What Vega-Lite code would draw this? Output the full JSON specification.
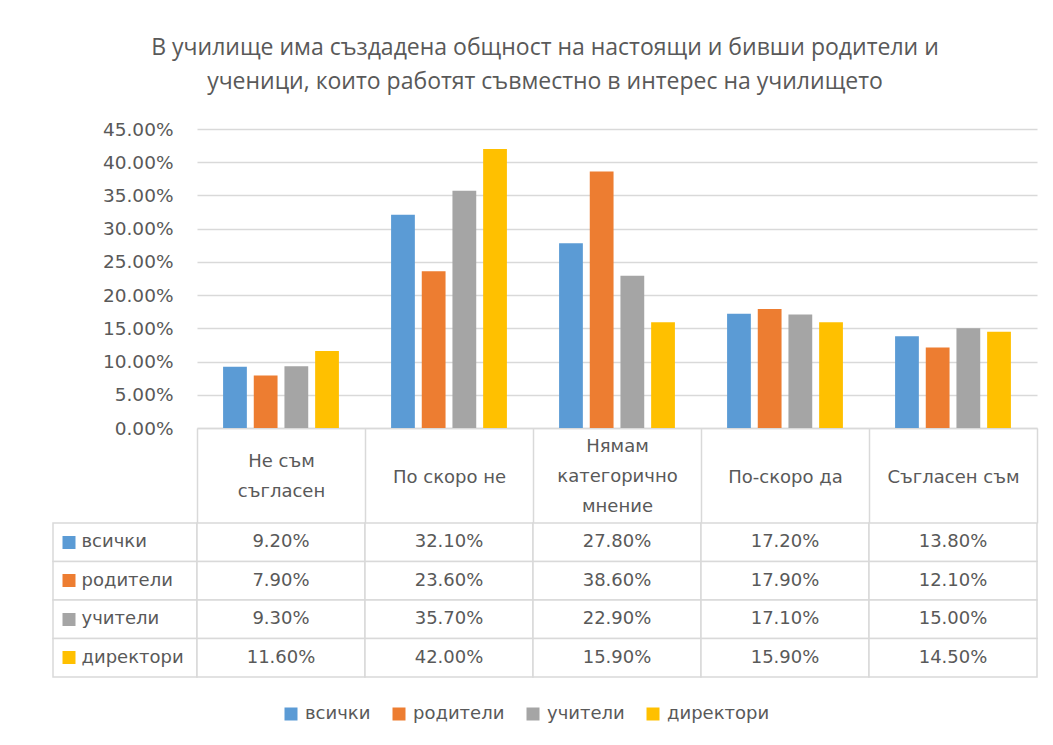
{
  "$schema": "https://vega.github.io/schema/vega-lite/v6.json",
  "background": "white",
  "padding": {"left": 52, "top": 37, "right": 10, "bottom": 10},
  "title": {
    "text": ["В училище има създадена общност на настоящи и бивши родители и", "ученици, които работят съвместно в интерес на училището"],
    "font": "Open Sans",
    "fontSize": 23,
    "fontWeight": "normal",
    "color": "#595959",
    "lineHeight": 34,
    "anchor": "middle",
    "offset": 26
  },
  "datasets": {
    "main": [
      {"cat": "Не съм съгласен", "series": "всички", "value": 0.092},
      {"cat": "По скоро не", "series": "всички", "value": 0.321},
      {"cat": "Нямам категорично мнение", "series": "всички", "value": 0.278},
      {"cat": "По-скоро да", "series": "всички", "value": 0.172},
      {"cat": "Съгласен съм", "series": "всички", "value": 0.138},
      {"cat": "Не съм съгласен", "series": "родители", "value": 0.079},
      {"cat": "По скоро не", "series": "родители", "value": 0.236},
      {"cat": "Нямам категорично мнение", "series": "родители", "value": 0.386},
      {"cat": "По-скоро да", "series": "родители", "value": 0.179},
      {"cat": "Съгласен съм", "series": "родители", "value": 0.121},
      {"cat": "Не съм съгласен", "series": "учители", "value": 0.093},
      {"cat": "По скоро не", "series": "учители", "value": 0.357},
      {"cat": "Нямам категорично мнение", "series": "учители", "value": 0.229},
      {"cat": "По-скоро да", "series": "учители", "value": 0.171},
      {"cat": "Съгласен съм", "series": "учители", "value": 0.150},
      {"cat": "Не съм съгласен", "series": "директори", "value": 0.116},
      {"cat": "По скоро не", "series": "директори", "value": 0.420},
      {"cat": "Нямам категорично мнение", "series": "директори", "value": 0.159},
      {"cat": "По-скоро да", "series": "директори", "value": 0.159},
      {"cat": "Съгласен съм", "series": "директори", "value": 0.145}
    ]
  },
  "columns": 2,
  "spacing": {"row": 95, "column": 0},
  "bounds": "flush",
  "align": "each",
  "resolve": {"scale": {"x": "independent", "y": "independent"}},
  "concat": [
    {
      "width": 144,
      "height": 299,
      "data": {"values": []},
      "mark": "rect",
      "encoding": {}
    },
    {
      "width": 840,
      "height": 299,
      "data": {"name": "main"},
      "mark": {"type": "bar"},
      "encoding": {
        "x": {
          "field": "cat",
          "type": "nominal",
          "sort": ["Не съм съгласен", "По скоро не", "Нямам категорично мнение", "По-скоро да", "Съгласен съм"],
          "scale": {"paddingInner": 0, "paddingOuter": 0},
          "axis": {
            "orient": "bottom",
            "title": null,
            "domain": true,
            "domainColor": "#d9d9d9",
            "domainWidth": 1.5,
            "ticks": true,
            "tickBand": "extent",
            "tickSize": 95,
            "tickColor": "#d9d9d9",
            "tickWidth": 1.5,
            "labelAngle": 0,
            "labelBaseline": "middle",
            "labelPadding": {
              "condition": [
                {"test": "datum.value === 'Не съм съгласен'", "value": -62},
                {"test": "datum.value === 'Нямам категорично мнение'", "value": -77}
              ],
              "value": -46
            },
            "labelLineHeight": 30,
            "labelFont": "DejaVu Sans",
            "labelFontSize": 18,
            "labelColor": "#595959",
            "labelLimit": 0,
            "labelOverlap": false,
            "labelExpr": "datum.label === 'Не съм съгласен' ? ['Не съм', 'съгласен'] : datum.label === 'Нямам категорично мнение' ? ['Нямам', 'категорично', 'мнение'] : datum.label"
          }
        },
        "xOffset": {
          "field": "series",
          "type": "nominal",
          "sort": ["всички", "родители", "учители", "директори"],
          "scale": {"paddingInner": 0.225, "paddingOuter": 0.85}
        },
        "y": {
          "field": "value",
          "type": "quantitative",
          "scale": {"domain": [0, 0.45], "nice": false},
          "axis": {
            "values": [0, 0.05, 0.1, 0.15, 0.2, 0.25, 0.3, 0.35, 0.4, 0.45],
            "format": ".2%",
            "title": null,
            "grid": true,
            "gridColor": "#d9d9d9",
            "gridWidth": 1.5,
            "domain": false,
            "ticks": false,
            "labelPadding": 24,
            "labelFont": "DejaVu Sans",
            "labelFontSize": 18.5,
            "labelColor": "#595959"
          }
        },
        "color": {
          "field": "series",
          "type": "nominal",
          "sort": ["всички", "родители", "учители", "директори"],
          "scale": {
            "domain": ["всички", "родители", "учители", "директори"],
            "range": ["#5B9BD5", "#ED7D31", "#A5A5A5", "#FFC000"]
          },
          "legend": {
            "orient": "none",
            "legendX": 229,
            "legendY": 576,
            "direction": "horizontal",
            "title": null,
            "symbolType": "square",
            "symbolSize": 169,
            "symbolStrokeWidth": 0,
            "labelFont": "DejaVu Sans",
            "labelFontSize": 18,
            "labelColor": "#595959",
            "labelOffset": 5,
            "columnPadding": 19
          }
        }
      }
    },
    {
      "width": 144,
      "height": 154,
      "data": {"name": "main"},
      "transform": [{"aggregate": [{"op": "count", "as": "n"}], "groupby": ["series"]}],
      "mark": {"type": "rect", "fill": "white", "stroke": "#d9d9d9", "strokeWidth": 1.5},
      "encoding": {
        "x": {"datum": "label", "type": "nominal", "axis": null, "scale": {"paddingInner": 0, "paddingOuter": 0}},
        "y": {
          "field": "series",
          "type": "nominal",
          "sort": ["всички", "родители", "учители", "директори"],
          "scale": {"paddingInner": 0, "paddingOuter": 0},
          "axis": {
            "orient": "left",
            "title": null,
            "offset": -22,
            "domain": false,
            "grid": false,
            "ticks": true,
            "tickSize": 13,
            "tickWidth": 13,
            "tickColor": {
              "condition": [
                {"test": "datum.value === 'всички'", "value": "#5B9BD5"},
                {"test": "datum.value === 'родители'", "value": "#ED7D31"},
                {"test": "datum.value === 'учители'", "value": "#A5A5A5"}
              ],
              "value": "#FFC000"
            },
            "labelAlign": "left",
            "labelPadding": -19,
            "labelFont": "DejaVu Sans",
            "labelFontSize": 18,
            "labelColor": "#595959",
            "labelLimit": 0
          }
        }
      }
    },
    {
      "width": 840,
      "height": 154,
      "data": {"name": "main"},
      "encoding": {
        "x": {
          "field": "cat",
          "type": "nominal",
          "sort": ["Не съм съгласен", "По скоро не", "Нямам категорично мнение", "По-скоро да", "Съгласен съм"],
          "axis": null,
          "scale": {"paddingInner": 0, "paddingOuter": 0}
        },
        "y": {
          "field": "series",
          "type": "nominal",
          "sort": ["всички", "родители", "учители", "директори"],
          "axis": null,
          "scale": {"paddingInner": 0, "paddingOuter": 0}
        }
      },
      "layer": [
        {"mark": {"type": "rect", "fill": "white", "stroke": "#d9d9d9", "strokeWidth": 1.5}},
        {
          "mark": {"type": "text", "font": "DejaVu Sans", "fontSize": 18, "color": "#595959"},
          "encoding": {"text": {"field": "value", "type": "quantitative", "format": ".2%"}}
        }
      ]
    }
  ],
  "config": {
    "view": {"stroke": null},
    "font": "DejaVu Sans"
  }
}
